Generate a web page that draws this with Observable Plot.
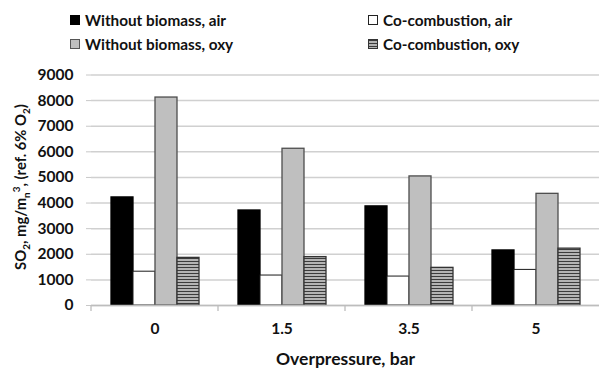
<!DOCTYPE html>
<html><head><meta charset="utf-8">
<script src="https://cdn.jsdelivr.net/npm/d3@7"></script>
<script src="https://cdn.jsdelivr.net/npm/@observablehq/plot@0.6"></script>
<style>
body{margin:0;background:#fff;}
#wrap{position:relative;width:600px;height:372px;overflow:hidden;font-family:Lato,"Open Sans",sans-serif;font-weight:bold;color:#111;}
#wrap svg{position:absolute;left:0;top:0;}
.leg{position:absolute;font-size:15.3px;line-height:16px;white-space:nowrap;display:flex;align-items:center;}
.sw{display:inline-block;width:8px;height:8px;margin-right:5px;box-sizing:content-box;}
#ylab{position:absolute;left:21px;top:187px;transform:translate(-50%,-50%) rotate(-90deg);font-size:14.8px;white-space:nowrap;}
#ylab sub,#ylab sup{font-size:10px;}
</style></head><body><div id="wrap"></div>
<script>
const categories = ["0", "1.5", "3.5", "5"];
const seriesNames = ["Without biomass, air", "Co-combustion, air", "Without biomass, oxy", "Co-combustion, oxy"];
const withoutBiomassAir = [4220, 3710, 3870, 2150];
const coCombustionAir = [1320, 1170, 1130, 1390];
const withoutBiomassOxy = [8120, 6120, 5040, 4360];
const coCombustionOxy = [1860, 1890, 1470, 2220];
const yTicks = [0, 1000, 2000, 3000, 4000, 5000, 6000, 7000, 8000, 9000];
const xTitle = "Overpressure, bar";

const seriesValues = [withoutBiomassAir, coCombustionAir, withoutBiomassOxy, coCombustionOxy];
const fills = ["#000000", "#ffffff", "#bfbfbf", "url(#hatch)"];
const strokes = ["#000000", "#1a1a1a", "#4d4d4d", "#333333"];
const data = [];
categories.forEach((c, i) => seriesNames.forEach((s, j) => data.push({cat: c, series: s, value: seriesValues[j][i]})));

const barMarks = seriesNames.map((s, j) => Plot.barY(data.filter(d => d.series === s), {
  fx: "cat", x: "series", y: "value", fill: fills[j], stroke: strokes[j], strokeWidth: j === 1 ? 1 : 1.3
}));

const chart = Plot.plot({
  width: 600, height: 372,
  marginTop: 74.5, marginBottom: 67, marginLeft: 90, marginRight: 0,
  style: {fontFamily: "Lato, 'Open Sans', sans-serif", fontWeight: "bold", fontSize: "15px", color: "#111", background: "transparent"},
  fx: {domain: categories, padding: 0, label: null},
  x: {domain: seriesNames, paddingInner: 0, paddingOuter: 0.77, axis: null},
  y: {domain: [0, 9000]},
  marks: [
    Plot.gridY(yTicks, {stroke: "#d0d0d0", strokeOpacity: 1, strokeWidth: 1.5}),
    Plot.axisY(yTicks, {tickSize: 5, tickPadding: 13, stroke: "#c8c8c8", fill: "#111", label: null, fontSize: 15.5, tickFormat: d => String(d)}),
    Plot.axisFx({anchor: "bottom", tickSize: 0, tickPadding: 17, fontSize: 15.5, fill: "#111", label: null}),
    Plot.axisFx({anchor: "bottom", ticks: [], tickSize: 0, fontSize: 17.5, fill: "#111", label: xTitle, labelAnchor: "center", labelOffset: 59}),
    ...barMarks,
    Plot.ruleY([0], {stroke: "#bdbdbd", strokeWidth: 1.5})
  ]
});

const svg = d3.select(chart);
const defs = svg.insert("defs", ":first-child");
const pat = defs.append("pattern").attr("id", "hatch").attr("patternUnits", "userSpaceOnUse").attr("width", 6).attr("height", 3);
pat.append("rect").attr("width", 6).attr("height", 3).attr("fill", "#b4b4b4");
pat.append("rect").attr("width", 6).attr("height", 1).attr("fill", "#3c3c3c");

// category boundary tick marks on the baseline
const fx = chart.scale("fx"), ys = chart.scale("y");
const y0 = ys.apply(0);
categories.forEach(c => {
  const xb = fx.apply(c);
  svg.append("line").attr("x1", xb).attr("x2", xb).attr("y1", y0).attr("y2", y0 + 6)
    .attr("stroke", "#bdbdbd").attr("stroke-width", 1.3);
});

const wrap = document.getElementById("wrap");
wrap.appendChild(chart);

// legend
const legPos = [[70, 20], [368, 20], [70, 44], [368, 44]];
const swStyles = [
  "background:#000;border:1px solid #000;",
  "background:#fff;border:1px solid #222;",
  "background:#bfbfbf;border:1px solid #555;",
  "background:repeating-linear-gradient(to bottom,#3c3c3c 0 1px,#b4b4b4 1px 3px);border:1px solid #333;"
];
seriesNames.forEach((s, j) => {
  const el = document.createElement("div");
  el.className = "leg";
  el.style.left = legPos[j][0] + "px";
  el.style.top = (legPos[j][1] - 8) + "px";
  el.innerHTML = `<span class="sw" style="${swStyles[j]}"></span><span>${s}</span>`;
  wrap.appendChild(el);
});

const yl = document.createElement("div");
yl.id = "ylab";
yl.innerHTML = "SO<sub>2</sub>, mg/m<sub>n</sub><sup>3</sup>, (ref. 6% O<sub>2</sub>)";
wrap.appendChild(yl);
</script>
</body></html>
